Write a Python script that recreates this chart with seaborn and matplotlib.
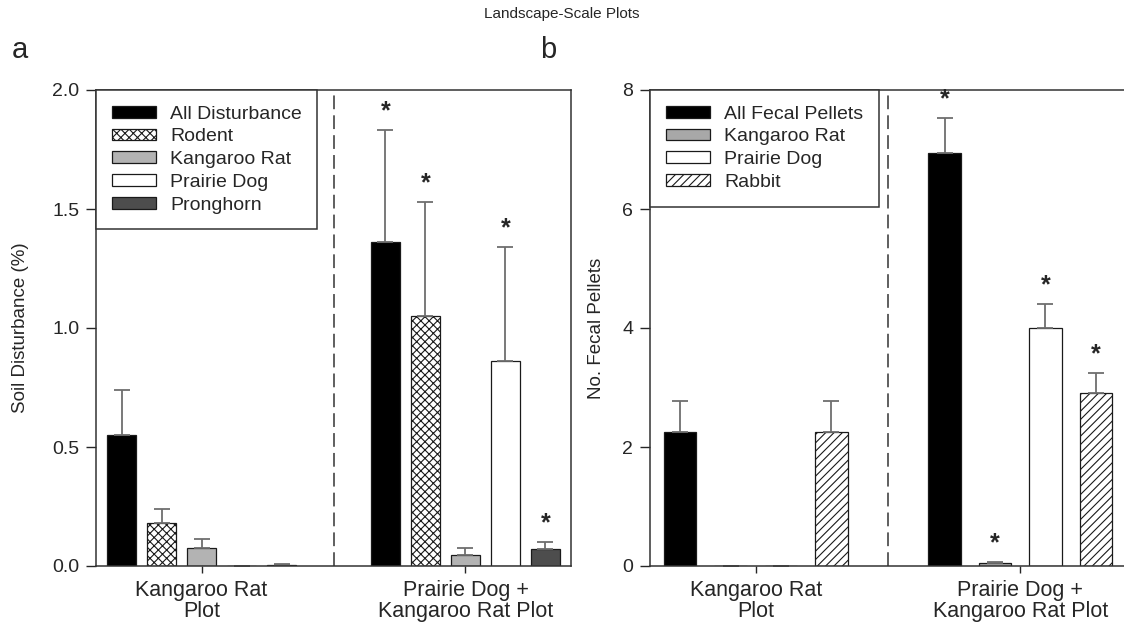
import pandas as pd
import matplotlib
matplotlib.use("Agg")
import matplotlib.pyplot as plt
from matplotlib.patches import Patch
import seaborn as sns

plots = ["Kangaroo Rat\nPlot", "Prairie Dog +\nKangaroo Rat Plot"]

# panel a - soil disturbance (%)
dist_types = ["All Disturbance", "Rodent", "Kangaroo Rat", "Prairie Dog", "Pronghorn"]
dist_krat = [0.55, 0.18, 0.075, 0.0, 0.005]
dist_pdog = [1.36, 1.05, 0.045, 0.86, 0.07]
dist_se_krat = [0.19, 0.06, 0.04, 0.0, 0.003]
dist_se_pdog = [0.47, 0.48, 0.03, 0.48, 0.03]
dist_sig = [True, True, False, True, True]   # asterisks, prairie dog plot

# panel b - fecal pellets
pel_types = ["All Fecal Pellets", "Kangaroo Rat", "Prairie Dog", "Rabbit"]
pel_krat = [2.25, 0.0, 0.0, 2.25]
pel_pdog = [6.94, 0.05, 4.0, 2.9]
pel_se_krat = [0.52, 0.0, 0.0, 0.52]
pel_se_pdog = [0.59, 0.01, 0.4, 0.34]
pel_sig = [True, True, True, True]

sns.set_style("white")
plt.rcParams['font.family'] = ['Liberation Sans', 'DejaVu Sans']
plt.rcParams['hatch.linewidth'] = 0.8

fig = plt.figure(figsize=(11.24, 6.28), dpi=100)
W, H = 1124, 628
ax1 = fig.add_axes([96 / W, 62 / H, 475 / W, 476 / H])
ax2 = fig.add_axes([650 / W, 62 / H, 476 / W, 476 / H])


def make_df(types, v1, v2):
    return pd.DataFrame({
        'plot': [plots[0]] * len(types) + [plots[1]] * len(types),
        'type': types * 2,
        'value': v1 + v2,
    })


def panel(ax, types, v1, v2, se1, se2, sig, faces, hatches, width, gap, ylim, yticks, ylabel, labx):
    df = make_df(types, v1, v2)
    sns.barplot(data=df, x='plot', y='value', hue='type', order=plots, hue_order=types,
                palette=dict(zip(types, faces)), width=width, gap=gap, errorbar=None,
                saturation=1, legend=False, edgecolor='#1a1a1a', linewidth=0.9, ax=ax)
    bar_conts = list(ax.containers)
    for i, cont in enumerate(bar_conts):
        vals = [v1[i], v2[i]]
        errs = [se1[i], se2[i]]
        xs = []
        for b in cont:
            b.set_hatch(hatches[i])
            xs.append(b.get_x() + b.get_width() / 2)
        ax.errorbar(xs, vals, yerr=[[0, 0], errs], fmt='none', ecolor='#6e6e6e',
                    elinewidth=1.3, capsize=5.5, capthick=1.3, zorder=1)
        if sig[i]:
            ax.annotate('*', (xs[1], vals[1] + errs[1]), xytext=(0, 5), textcoords='offset points',
                        ha='center', va='bottom', fontsize=18, fontweight='bold')
    ax.axvline(0.5, color='#333333', linestyle=(0, (9, 4)), linewidth=1.1)
    ax.set_xlim(-0.4, 1.4)
    ax.set_ylim(*ylim)
    ax.set_yticks(yticks)
    ax.set_xlabel('')
    ax.set_ylabel(ylabel, fontsize=13.5)
    ax.yaxis.set_label_coords(labx, 0.5)
    ax.tick_params(axis='x', labelsize=15.5, direction='out', length=5, width=1, bottom=True, pad=5)
    ax.tick_params(axis='y', labelsize=14, direction='out', length=7, width=1, left=True, pad=5)
    for lbl in ax.get_xticklabels():
        lbl.set_linespacing(1.0)
    for s in ax.spines.values():
        s.set_color('#333333')
        s.set_linewidth(1.1)
    handles = [Patch(facecolor=f, edgecolor='#1a1a1a', hatch=h, linewidth=0.9, label=t)
               for t, f, h in zip(types, faces, hatches)]
    leg = ax.legend(handles=handles, loc='upper left', bbox_to_anchor=(0, 1), borderaxespad=0,
                    fontsize=14, fancybox=False, framealpha=1, edgecolor='#333333',
                    handlelength=2.3, handleheight=0.55, handletextpad=0.7, labelspacing=0.3,
                    borderpad=0.8)
    leg.get_frame().set_linewidth(1.1)


panel(ax1, dist_types, dist_krat, dist_pdog, dist_se_krat, dist_se_pdog, dist_sig,
      ['black', 'white', '#b3b3b3', 'white', '#4d4d4d'], [None, 'xxxx', None, None, None],
      0.758, 0.275, (0, 2.0), [0.0, 0.5, 1.0, 1.5, 2.0], 'Soil Disturbance (%)', -0.14)
ax1.set_yticklabels(['0.0', '0.5', '1.0', '1.5', '2.0'])

panel(ax2, pel_types, pel_krat, pel_pdog, pel_se_krat, pel_se_pdog, pel_sig,
      ['black', '#a8a8a8', 'white', 'white'], [None, None, None, '////'],
      0.763, 0.36, (0, 8), [0, 2, 4, 6, 8], 'No. Fecal Pellets', -0.095)

fig.text(0.5, 1 - 14 / H, 'Landscape-Scale Plots', ha='center', va='center', fontsize=11)
fig.text(20 / W, 1 - 50 / H, 'a', ha='center', va='center', fontsize=21)
fig.text(548 / W, 1 - 50 / H, 'b', ha='center', va='center', fontsize=21)

fig.savefig('out.png', dpi=100)
